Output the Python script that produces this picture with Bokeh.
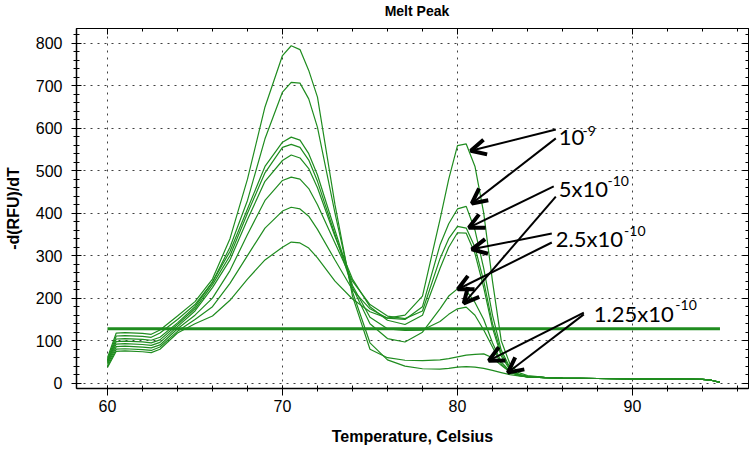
from bokeh.plotting import figure
from bokeh.layouts import column
from bokeh.models import (Range1d, SingleIntervalTicker, LinearAxis, Arrow, OpenHead,
                          ColumnDataSource)
from bokeh.core.properties import value
from bokeh.embed import file_html
from bokeh.resources import INLINE

# ---------------- data ----------------
temps = [60, 60.5, 61, 62, 62.5, 63, 64, 65, 66, 67, 68, 69, 70, 70.5, 71, 71.5, 72, 73, 74, 75,
         76, 77, 78, 79, 79.5, 80, 80.5, 81, 81.5, 82, 82.5, 83, 83.5, 84, 85, 86, 88, 90, 92, 94,
         94.5, 95]

curve_1 = [37, 75, 76, 74, 72, 80, 118, 140, 158, 195, 245, 290, 320, 332, 330, 318, 295, 240, 198, 168,
           153, 160, 205, 385, 480, 559, 563, 510, 400, 240, 100, 45, 25, 18, 14, 12, 11, 10, 10, 9, 7, 2]
curve_2 = [40, 80, 81, 79, 77, 85, 122, 150, 180, 235, 300, 365, 405, 414, 410, 393, 362, 290, 220, 175,
           153, 150, 180, 325, 375, 410, 416, 360, 270, 160, 78, 36, 21, 16, 13, 12, 11, 10, 10, 9, 7, 2]
curve_3 = [44, 86, 87, 85, 83, 90, 128, 160, 200, 265, 350, 430, 477, 485, 480, 458, 420, 330, 240, 185,
           158, 152, 170, 293, 340, 369, 365, 320, 240, 140, 70, 34, 20, 16, 13, 12, 11, 10, 10, 9, 7, 2]
curve_4 = [47, 92, 93, 91, 89, 96, 133, 170, 225, 290, 385, 475, 524, 537, 530, 505, 460, 345, 245, 180,
           148, 138, 160, 270, 320, 354, 353, 305, 225, 130, 64, 31, 19, 15, 13, 12, 11, 10, 10, 9, 7, 2]
curve_5 = [50, 98, 99, 97, 95, 102, 138, 175, 232, 300, 400, 495, 555, 562, 555, 525, 475, 350, 225, 140,
           105, 97, 120, 175, 205, 222, 218, 190, 150, 95, 50, 28, 19, 15, 13, 12, 11, 10, 10, 9, 7, 2]
curve_6 = [52, 104, 105, 103, 101, 108, 142, 180, 238, 310, 410, 510, 567, 579, 572, 540, 490, 360, 230, 155,
           128, 124, 125, 145, 162, 175, 179, 160, 125, 85, 45, 26, 18, 15, 13, 12, 11, 10, 10, 9, 7, 2]
curve_7 = [55, 111, 112, 110, 108, 118, 150, 185, 238, 320, 430, 575, 685, 708, 706, 669, 602, 400, 215, 95,
           55, 40, 34, 33, 35, 38, 39, 38, 35, 30, 25, 20, 17, 15, 13, 12, 11, 10, 10, 9, 7, 2]
curve_8 = [60, 118, 119, 117, 115, 125, 158, 192, 245, 340, 480, 650, 771, 794, 785, 736, 673, 420, 205, 80,
           60, 54, 53, 55, 58, 62, 66, 68, 69, 60, 42, 26, 19, 15, 13, 12, 11, 10, 10, 9, 7, 2]
curves = [curve_1, curve_2, curve_3, curve_4, curve_5, curve_6, curve_7, curve_8]

threshold = 128
title_text = "Melt Peak"

# annotation labels (main text and superscript), positions in data units
label_text = ["10", "5x10", "2.5x10", "1.25x10"]
label_x = [85.79, 85.79, 85.62, 87.79]
label_y = [578, 458, 340, 164]
sup_text = ["-9", "-10", "-10", "-10"]
sup_x = [87.14, 88.57, 89.52, 92.45]
sup_y = [594, 476, 359, 183]

# annotation arrows (start -> end)
arrow_x0 = [85.62, 85.62, 85.50, 85.62, 85.39, 85.39, 87.22, 87.22]
arrow_y0 = [597, 576, 463, 439, 352, 331, 166, 162]
arrow_x1 = [80.76, 80.82, 80.65, 80.36, 80.82, 80.02, 81.79, 82.88]
arrow_y1 = [547, 423, 366, 188, 315, 221, 53, 25]

GREEN = "#1f8c1f"
FONT = "Liberation Sans"
W = 752
TITLE_H = 20

# ---------------- title strip ----------------
tfig = figure(width=W, height=TITLE_H, output_backend="svg", toolbar_location=None,
              x_range=Range1d(0, W), y_range=Range1d(0, TITLE_H),
              min_border=0, min_border_left=0, min_border_right=0,
              min_border_top=0, min_border_bottom=0)
tfig.axis.visible = False
tfig.grid.visible = False
tfig.outline_line_color = None
tfig.background_fill_color = "white"
tfig.border_fill_color = "white"
tfig.text(x=[381], y=[9.5], text=[title_text], text_font=value(FONT), text_font_size="14px",
          text_font_style="bold", text_align="center", text_baseline="middle", text_color="black")

# ---------------- main plot ----------------
p = figure(width=W, height=450 - TITLE_H, output_backend="svg", toolbar_location=None,
           x_range=Range1d(58.23, 96.63), y_range=Range1d(-12.5, 834.6),
           min_border_left=76, min_border_right=4, min_border_top=28 - TITLE_H, min_border_bottom=62,
           x_axis_label="Temperature, Celsius", y_axis_label="-d(RFU)/dT")
p.background_fill_color = "white"
p.border_fill_color = "white"
p.outline_line_color = "black"

xt = SingleIntervalTicker(interval=10, num_minor_ticks=5)
yt = SingleIntervalTicker(interval=100, num_minor_ticks=5)
p.xaxis.ticker = xt
p.yaxis.ticker = yt
p.xgrid.ticker = xt
p.ygrid.ticker = yt

for ax in (p.xaxis[0], p.yaxis[0]):
    ax.axis_line_color = "black"
    ax.axis_line_width = 1.5
    ax.major_tick_line_color = "black"
    ax.minor_tick_line_color = "black"
    ax.major_label_text_font = FONT
    ax.major_label_text_font_size = "16px"
    ax.major_label_text_color = "black"
    ax.axis_label_text_font = FONT
    ax.axis_label_text_font_size = "16px"
    ax.axis_label_text_font_style = "bold"
    ax.axis_label_text_color = "black"

p.xaxis.major_tick_in = 3
p.xaxis.major_tick_out = 7
p.xaxis.minor_tick_in = 3
p.xaxis.minor_tick_out = 3
p.xaxis.major_label_standoff = 4
p.xaxis.axis_label_standoff = 13
p.yaxis.major_tick_in = 5
p.yaxis.major_tick_out = 5
p.yaxis.minor_tick_in = 3
p.yaxis.minor_tick_out = 3
p.yaxis.major_label_standoff = 9
p.yaxis.axis_label_standoff = 11

for loc in ("above", "right"):
    ax = LinearAxis(ticker=xt if loc == "above" else yt)
    ax.major_label_text_font_size = "1px"
    ax.major_label_text_color = None
    ax.major_label_standoff = 0
    ax.major_tick_in = 6
    ax.major_tick_out = 0
    ax.minor_tick_in = 3
    ax.minor_tick_out = 0
    ax.axis_line_color = "black"
    p.add_layout(ax, loc)

p.grid.grid_line_color = "black"
p.grid.grid_line_dash = "2 5"
p.grid.grid_line_alpha = 0.75

for c in curves:
    p.line(temps, c, line_color=GREEN, line_width=1.2)

p.line([temps[0], temps[-1]], [threshold, threshold], line_color=GREEN, line_width=3)

lab_src = ColumnDataSource(dict(x=label_x, y=label_y, text=label_text))
p.text(x="x", y="y", text="text", source=lab_src, text_font=value("Lato"),
       text_font_size="22px", text_baseline="alphabetic", text_align="left", text_color="black")
sup_src = ColumnDataSource(dict(x=sup_x, y=sup_y, text=sup_text))
p.text(x="x", y="y", text="text", source=sup_src, text_font=value("Lato"),
       text_font_size="14px", text_baseline="alphabetic", text_align="left", text_color="black")

arr_src = ColumnDataSource(dict(x0=arrow_x0, y0=arrow_y0, x1=arrow_x1, y1=arrow_y1))
p.add_layout(Arrow(end=OpenHead(size=15, line_width=4, line_color="black"),
                   x_start="x0", y_start="y0", x_end="x1", y_end="y1", source=arr_src,
                   line_width=2, line_color="black"))

layout = column(tfig, p, spacing=0)
open("out.html", "w").write(file_html(layout, INLINE))
